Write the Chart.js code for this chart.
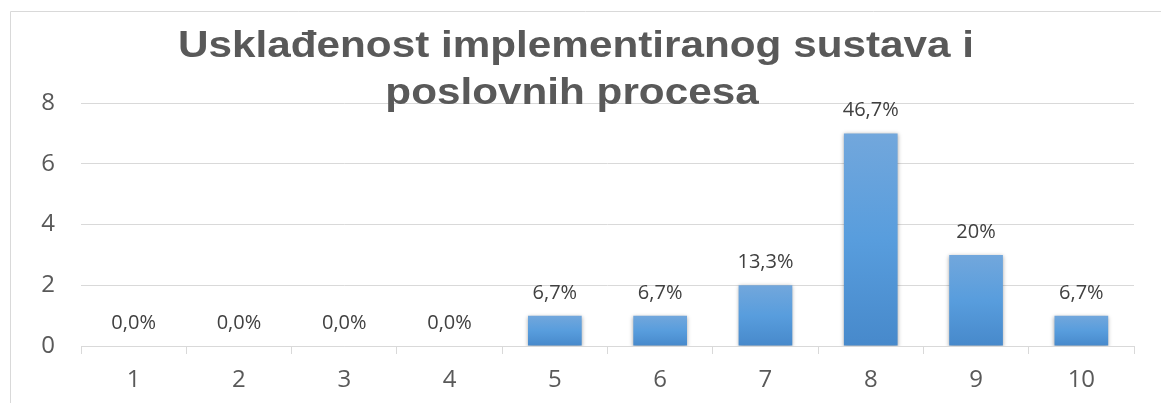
<!DOCTYPE html>
<html>
<head>
<meta charset="utf-8">
<script src="https://cdn.jsdelivr.net/npm/chart.js@4.4.1/dist/chart.umd.min.js"></script>
<style>
    html, body { margin: 0; padding: 0; background: #fff; }
    #wrap { position: relative; width: 1161px; height: 403px; }
</style>
</head>
<body>
<div id="wrap"><canvas id="chart" width="1161" height="403"></canvas></div>
<script>
// chart data
const titleLines = ["Usklađenost implementiranog sustava i", "poslovnih procesa"];
const categories = ["1", "2", "3", "4", "5", "6", "7", "8", "9", "10"];
const counts = [0, 0, 0, 0, 1, 1, 2, 7, 3, 1];
const percentLabels = ["0,0%", "0,0%", "0,0%", "0,0%", "6,7%", "6,7%", "13,3%", "46,7%", "20%", "6,7%"];
const yTicks = [0, 2, 4, 6, 8];

const FONT = "'Open Sans', 'Liberation Sans', sans-serif";

// frame + title drawn on canvas
const framePlugin = {
    id: "frame",
    beforeDraw(chart) {
        const c = chart.ctx;
        c.save();
        c.strokeStyle = "#d9d9d9";
        c.lineWidth = 1;
        c.beginPath();
        c.moveTo(10.5, chart.height);
        c.lineTo(10.5, 11.5);
        c.lineTo(chart.width, 11.5);
        c.stroke();
        c.restore();
    },
    afterDraw(chart) {
        const c = chart.ctx;
        c.save();
        c.fillStyle = "#595959";
        c.font = "bold 37px 'Liberation Sans', Arial, sans-serif";
        c.textAlign = "center";
        c.textBaseline = "alphabetic";
        // the title in the picture is a bit wider than the font, stretch it
        const w = c.measureText(titleLines[0]).width;
        const sx = 796 / w;
        c.translate(576, 0);
        c.scale(sx, 1);
        c.fillText(titleLines[0], 0, 57);
        c.fillText(titleLines[1], -4 / sx, 104);
        c.restore();
    }
};

// percentage labels above the bars
const labelPlugin = {
    id: "pctLabels",
    afterDatasetsDraw(chart) {
        const c = chart.ctx;
        const meta = chart.getDatasetMeta(0);
        c.save();
        c.fillStyle = "#404040";
        c.font = "20px " + FONT;
        c.textAlign = "center";
        c.textBaseline = "alphabetic";
        meta.data.forEach((bar, i) => {
            c.fillText(percentLabels[i], bar.x, bar.y - 17);
        });
        c.restore();
    }
};

// soft shadow under bars like the office chart
const shadowPlugin = {
    id: "barShadow",
    beforeDatasetsDraw(chart) {
        const c = chart.ctx;
        c.save();
        c.shadowColor = "rgba(0,0,0,0.35)";
        c.shadowBlur = 4;
        c.shadowOffsetX = 0;
        c.shadowOffsetY = 1;
    },
    afterDatasetsDraw(chart) {
        chart.ctx.restore();
    }
};

function barGradient(context) {
    const chart = context.chart;
    const ys = chart.scales.y;
    if (!chart.chartArea || !ys) return "#5b9bd5";
    const v = counts[context.dataIndex];
    const top = ys.getPixelForValue(v);
    const bottom = ys.getPixelForValue(0);
    if (!isFinite(top) || !isFinite(bottom) || bottom - top < 1) return "#5b9bd5";
    const g = chart.ctx.createLinearGradient(0, top, 0, bottom);
    g.addColorStop(0, "#72a7dc");
    g.addColorStop(0.5, "#589ddd");
    g.addColorStop(1, "#4789cb");
    return g;
}

new Chart(document.getElementById("chart"), {
    type: "bar",
    data: {
        labels: categories,
        datasets: [{
            data: counts,
            backgroundColor: barGradient,
            borderWidth: 0,
            barPercentage: 0.51,
            categoryPercentage: 1
        }]
    },
    options: {
        responsive: false,
        animation: false,
        layout: { padding: { left: 41, right: 27, top: 103, bottom: 0 } },
        plugins: {
            legend: { display: false },
            title: { display: false },
            tooltip: { enabled: false }
        },
        scales: {
            x: {
                offset: true,
                afterFit(scale) { scale.height = 57; },
                grid: {
                    offset: true,
                    drawOnChartArea: false,
                    drawTicks: true,
                    tickLength: 8,
                    color: "#d9d9d9"
                },
                border: { display: true, color: "#d9d9d9" },
                ticks: {
                    color: "#595959",
                    font: { family: FONT, size: 24 },
                    padding: 12
                }
            },
            y: {
                min: 0,
                max: 8,
                afterFit(scale) { scale.width = 40; },
                afterBuildTicks(scale) {
                    scale.ticks = yTicks.map(v => ({ value: v }));
                },
                grid: { color: "#d9d9d9", drawTicks: false },
                border: { display: false },
                ticks: {
                    color: "#595959",
                    font: { family: FONT, size: 24 },
                    padding: 26
                }
            }
        }
    },
    plugins: [framePlugin, shadowPlugin, labelPlugin]
});
</script>
</body>
</html>
